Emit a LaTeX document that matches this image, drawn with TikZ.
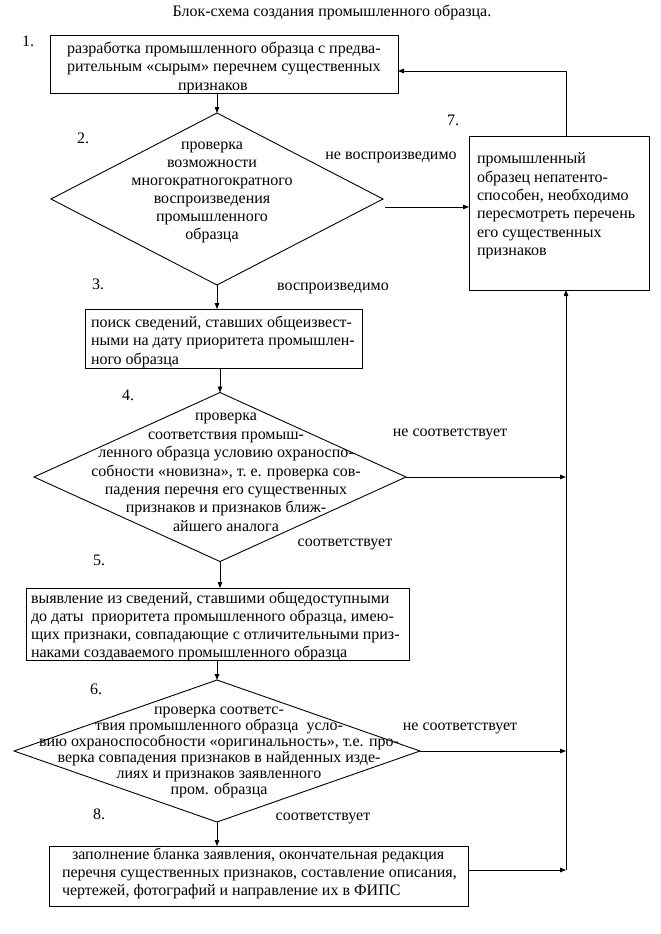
\documentclass[tikz,border=0pt]{standalone}
\usepackage{fontspec}
\setmainfont{Liberation Serif}
\usetikzlibrary{shapes.geometric,arrows.meta,calc}
\begin{document}
\begin{tikzpicture}[x=1pt,y=-1pt,
  every node/.style={inner sep=0pt, outer sep=0pt},
  box/.style={draw, line width=0.9pt},
  dia/.style={draw, diamond, line width=0.9pt},
  txt/.style={font=\fontsize{16}{18.4}\selectfont,
    execute at begin node=\strut, execute at end node=\strut},
  txtc/.style={font=\fontsize{16}{18}\selectfont,
    execute at begin node=\strut, execute at end node=\strut},
  txtd/.style={font=\fontsize{16}{16}\selectfont,
    execute at begin node=\strut, execute at end node=\strut},
  arr/.style={line width=0.9pt, -{Triangle[length=6pt,width=4.5pt]}}]

\useasboundingbox[fill=white] (0,0) rectangle (661,934);

% boxes
\node[box, minimum width=348pt, minimum height=58pt] (b1) at (224,64) {};
\node[box, minimum width=277pt, minimum height=59pt] (b3) at (223.5,338.5) {};
\node[box, minimum width=383pt, minimum height=72pt] (b5) at (217.5,624) {};
\node[box, minimum width=180pt, minimum height=154pt] (b7) at (559,213) {};
\node[box, minimum width=419pt, minimum height=60pt] (b8) at (258.5,876) {};

% diamonds
\node[dia, minimum width=332pt, minimum height=172pt] (d2) at (217,199) {};
\node[dia, minimum width=372pt, minimum height=169pt] (d4) at (220,477) {};
\node[dia, minimum width=406pt, minimum height=142pt] (d6) at (217,751) {};

% helper coordinates
\coordinate (rx) at (566,0);
\coordinate (top) at (566,71);
\coordinate (a2) at (385,207);
\coordinate (j4) at (566,477);
\coordinate (j6) at (566,751);
\coordinate (j8) at (566,870);

% connectors
\draw[arr] (b1.south -| d2.north) -- (d2.north);
\draw[arr] (a2) -- (b7.west |- a2);
\draw[arr] (d2.south) -- (d2.south |- b3.north);
\draw[arr] (b3.south -| d4.north) -- (d4.north);
\draw[arr] (d4.east) -- (j4);
\draw[arr] (d4.south) -- (d4.south |- b5.north);
\draw[arr] (b5.south -| d6.north) -- (d6.north);
\draw[arr] (d6.east) -- (j6);
\draw[arr] (d6.south) -- (d6.south |- b8.north);
\draw[arr] (b8.east |- j8) -- (j8);
\draw[arr] (j8) -- (b7.south -| rx);
\draw[arr] (b7.north -| rx) -- (top) -- (b1.east |- top);

% texts
\node[txt] (title) at (332,13) {Блок-схема создания промышленного образца.};

\node[txt, anchor=west, align=left] (t1) at (67,69)
  {разработка промышленного образца с предва-\\рительным «сырым» перечнем существенных\\\hspace*{111pt}признаков};

\node[txtc, align=center] (t2) at (212,193)
  {проверка\\возможности\\многократногократного\\воспроизведения\\промышленного\\образца};

\node[txt, anchor=west, align=left] (t7) at (477,207)
  {промышленный\\образец непатенто-\\способен, необходимо\\пересмотреть перечень\\его существенных\\признаков};

\node[txt, anchor=west, align=left] (t3) at (91,343)
  {поиск сведений, ставших общеизвест-\\ными на дату приоритета промышлен-\\ного образца};

\node[txt, align=center] (t4) at (226,475)
  {проверка\\соответствия промыш-\\ленного образца условию охраноспо-\\собности «новизна», т.~е. проверка сов-\\падения перечня его существенных\\признаков и признаков ближ-\\айшего аналога};

\node[txtc, anchor=west, align=left] (t5) at (31,627)
  {выявление из сведений, ставшими общедоступными\\до даты\ \ приоритета промышленного образца, имею-\\щих признаки, совпадающие с отличительными приз-\\наками создаваемого промышленного образца};

\node[txtd, align=center] (t6) at (219,753)
  {проверка соответс-\\твия промышленного образца\ \ усло-\\вию охраноспособности «оригинальность», т.е. про-\\верка совпадения признаков в найденных изде-\\лиях и признаков заявленного\\пром. образца};

\node[txtc, anchor=west, align=left] (t8) at (62,874)
  {\hspace*{10pt}заполнение бланка заявления, окончательная редакция\\перечня существенных признаков, составление описания,\\чертежей, фотографий и направление их в ФИПС};

% step numbers
\node[txt] (n1) at (28,43) {1.};
\node[txt] (n2) at (83,140) {2.};
\node[txt] (n3) at (98,286) {3.};
\node[txt] (n4) at (128,397) {4.};
\node[txt] (n5) at (99,562) {5.};
\node[txt] (n6) at (96,691) {6.};
\node[txt] (n7) at (453,122) {7.};
\node[txt] (n8) at (99,816) {8.};

% edge labels
\node[txt] (l2) at (391,156) {не воспроизведимо};
\node[txt] (l3) at (333,287) {воспроизведимо};
\node[txt] (l4) at (450,433) {не соответствует};
\node[txt] (l5) at (345,543) {соответствует};
\node[txt] (l6) at (460,727) {не соответствует};
\node[txt] (l8) at (323,817) {соответствует};
\end{tikzpicture}
\end{document}
